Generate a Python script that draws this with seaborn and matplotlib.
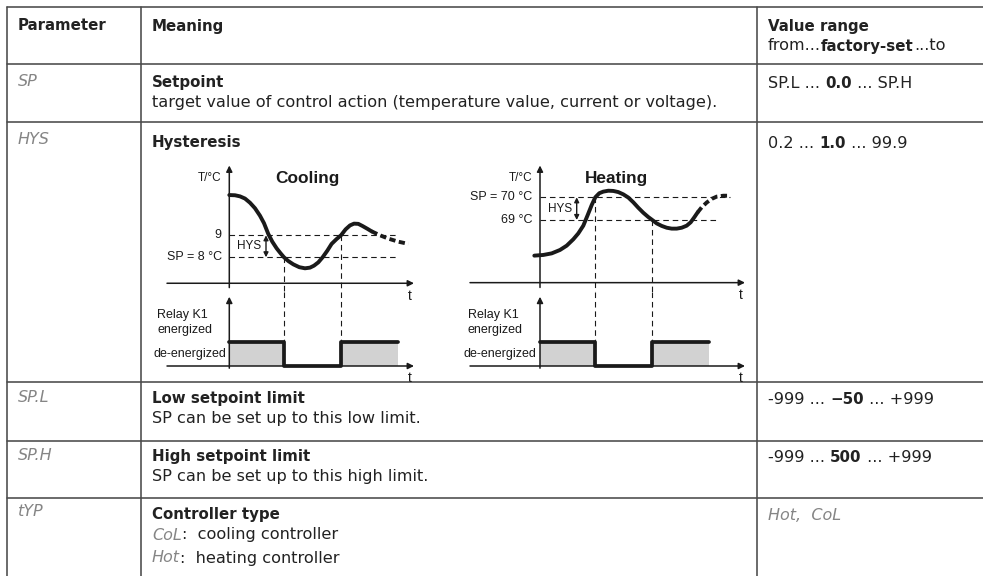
import seaborn as sns
import matplotlib.pyplot as plt
from matplotlib import transforms

sns.set_theme(style="white")
plt.rcParams['font.family'] = ['DejaVu Sans']

W, H = 983, 576

# ---- table content ----
headers = ["Parameter", "Meaning"]
range_header = [("Value range", "bold")]
range_sub = [("from...", "normal"), ("factory-set", "bold"), ("...to", "normal")]
params = ["SP", "HYS", "SP.L", "SP.H", "tYP"]
titles = ["Setpoint", "Hysteresis", "Low setpoint limit", "High setpoint limit", "Controller type"]
details = [
    [[("target value of control action (temperature value, current or voltage).", "normal")]],
    [],
    [[("SP can be set up to this low limit.", "normal")]],
    [[("SP can be set up to this high limit.", "normal")]],
    [[("CoL", "seg"), (":  cooling controller", "normal")],
     [("Hot", "seg"), (":  heating controller", "normal")]],
]
ranges = [
    [("SP.L ... ", "normal"), ("0.0", "bold"), (" ... SP.H", "normal")],
    [("0.2 ... ", "normal"), ("1.0", "bold"), (" ... 99.9", "normal")],
    [("-999 ... ", "normal"), ("\u221250", "bold"), (" ... +999", "normal")],
    [("-999 ... ", "normal"), ("500", "bold"), (" ... +999", "normal")],
    [("Hot,  CoL", "seg")],
]

# ---- diagram data (time in arbitrary units, temperature in degC) ----
cool_t = [0, 0.57, 1.07, 1.57, 2.07, 2.57, 3.07, 3.47, 3.9, 4.3, 4.73, 5.13, 5.47, 5.9,
          6.4, 7.0, 7.57, 8.07, 8.47, 8.9, 9.33, 9.8, 10.23, 10.73, 11.17, 11.63, 12.07,
          12.47, 12.9, 13.33, 13.83, 14.23]
cool_T = [10.83, 10.82, 10.77, 10.67, 10.48, 10.23, 9.89, 9.55, 9.06, 8.71, 8.41, 8.18, 8.0,
          7.83, 7.68, 7.55, 7.5, 7.53, 7.62, 7.77, 8.0, 8.3, 8.61, 8.83, 9.0, 9.27, 9.45,
          9.53, 9.52, 9.42, 9.29, 9.18]
cool_tail_t = [14.23, 15.07, 15.9, 16.9, 17.9]
cool_tail_T = [9.18, 9.0, 8.85, 8.71, 8.61]
cool_sp, cool_upper = 8, 9
cool_relay_t = [0, 5.47, 11.17, 16.9]
cool_relay_s = [1, 0, 1, 1]

heat_t = [-0.57, 0.33, 1.17, 2.0, 2.67, 3.33, 3.83, 4.33, 4.77, 5.17, 5.53, 5.93, 6.33, 6.83,
          7.33, 7.83, 8.33, 8.83, 9.33, 9.83, 10.33, 10.83, 11.23, 11.67, 12.17, 12.67,
          13.17, 13.67, 14.17, 14.67, 15.07, 15.43, 15.77]
heat_T = [67.43, 67.46, 67.53, 67.68, 67.87, 68.15, 68.41, 68.75, 69.22, 69.66, 70.0, 70.18,
          70.25, 70.29, 70.28, 70.23, 70.13, 69.99, 69.78, 69.54, 69.32, 69.13, 69.0, 68.85,
          68.74, 68.66, 68.62, 68.62, 68.66, 68.75, 68.9, 69.12, 69.34]
heat_tail_t = [15.77, 16.17, 16.67, 17.17, 17.67, 18.33, 19.0]
heat_tail_T = [69.34, 69.56, 69.77, 69.93, 70.03, 70.07, 70.07]
heat_sp, heat_lower = 70, 69
heat_relay_t = [0, 5.53, 11.23, 16.93]
heat_relay_s = [1, 0, 1, 1]

fig = plt.figure(figsize=(W / 100, H / 100), dpi=100)
renderer = fig.canvas.get_renderer()

bg = fig.add_axes([0, 0, 1, 1])
bg.set_xlim(0, W)
bg.set_ylim(H, 0)
bg.axis('off')

TXT = '#222222'
styles = {
    'normal': dict(family='DejaVu Sans', size=11.6, color=TXT),
    'bold': dict(family='DejaVu Sans', size=10.8, color=TXT, weight='bold'),
    'seg': dict(family='DejaVu Sans', style='oblique', weight='light', size=11.5, color='#858585'),
}


def extent(s, style):
    t = bg.text(0, 0, s, **style)
    w = t.get_window_extent(renderer).width
    t.remove()
    return w


def text_width(s, style):
    # advance width of s (spaces included), bearings cancelled by bar glyphs
    return extent('|' + s + '|', style) - extent('||', style)


def rich(ax, x, y, parts):
    trans = ax.transData
    for s, kind in parts:
        ax.text(x, y, s, transform=trans, va='center', ha='left', **styles[kind])
        trans = transforms.offset_copy(trans, x=text_width(s, styles[kind]), units='dots')


# ---- table grid ----
row_lines = [7, 64, 122, 382, 441, 498]
col_lines = [7, 141, 757]
line_kw = dict(color='#4a4a4a', lw=1.15)
for y in row_lines:
    bg.plot([7, W], [y, y], **line_kw)
for x in col_lines:
    bg.plot([x, x], [7, H], **line_kw)

# header
bg.text(18, 26, headers[0], va='center', **styles['bold'])
bg.text(152, 26, headers[1], va='center', **styles['bold'])
rich(bg, 768, 26, range_header)
rich(bg, 768, 46, range_sub)

row_y = [83, 142, 399, 457, 514]
for i, y in enumerate(row_y):
    rich(bg, 18, y - 2, [(params[i], 'seg')])
    bg.text(152, y, titles[i], va='center', **styles['bold'])
    for j, line in enumerate(details[i]):
        rich(bg, 152, y + 21 + 23 * j if i == 4 else y + 19, line)
    rich(bg, 768, y + 1, ranges[i])


# ---- diagrams ----
def diagram_axes(box, x_origin, x_scale, y_ref_px, y_ref_val, y_scale):
    x0, y0, x1, y1 = box
    ax = fig.add_axes([x0 / W, 1 - y1 / H, (x1 - x0) / W, (y1 - y0) / H])
    ax.set_xlim((x0 - x_origin) / x_scale, (x1 - x_origin) / x_scale)
    ax.set_ylim(y_ref_val - (y1 - y_ref_px) / y_scale, y_ref_val - (y0 - y_ref_px) / y_scale)
    ax.axis('off')
    return ax


DFAM = ['Liberation Sans', 'DejaVu Sans']
DF = dict(family=DFAM, size=9, color='#1a1a1a')
arrow = dict(arrowstyle='-|>', color='k', lw=1.1, mutation_scale=9, shrinkA=0, shrinkB=0)
dbl = dict(arrowstyle='<|-|>', color='k', lw=1.0, mutation_scale=7, shrinkA=0, shrinkB=0)
dash = (0, (5, 3.5))


def draw_diagram(box_x, x_origin, y_ref_px, y_ref_val, y_scale, t, T, tail_t, tail_T,
                 levels, level_end, switches, relay_t, relay_s, axis_span, title, labels):
    top = diagram_axes((box_x[0], 160, box_x[1], 292), x_origin, 10, y_ref_px, y_ref_val, y_scale)
    bot = diagram_axes((box_x[0], 292, box_x[1], 385), x_origin, 10, 366, 0, 24.3)
    tb, tt = top.get_ylim()
    x_left, x_right, t_axis = axis_span

    # axes
    top.annotate('', xy=(0, tt - 0.25 * (tt - tb) / 6), xytext=(0, tb + 0.2), arrowprops=arrow)
    top.annotate('', xy=(x_right, t_axis), xytext=(x_left, t_axis), arrowprops=arrow)
    bot.annotate('', xy=(0, 2.85), xytext=(0, -0.09), arrowprops=arrow)
    bot.annotate('', xy=(x_right, 0), xytext=(x_left, 0), arrowprops=arrow)

    # setpoint guides
    for lv, end in zip(levels, level_end):
        top.plot([0, end], [lv, lv], color='k', lw=0.8, linestyle=dash)
    for (st, sv) in switches:
        top.plot([st, st], [sv, tb], color='k', lw=0.8, linestyle=dash)
        bot.plot([st, st], [bot.get_ylim()[1], 0], color='k', lw=0.8, linestyle=dash)

    # temperature curve
    sns.lineplot(x=t, y=T, ax=top, color='k', lw=2.8, sort=False, estimator=None)
    sns.lineplot(x=tail_t, y=tail_T, ax=top, color='k', lw=2.8, sort=False, estimator=None,
                 linestyle=(0, (1.6, 0.9)))

    # relay
    bot.fill_between(relay_t, relay_s, step='post', color='#d2d2d2', lw=0)
    sns.lineplot(x=relay_t, y=relay_s, ax=bot, color='k', lw=2.7, sort=False, estimator=None,
                 drawstyle='steps-post')

    # texts
    lo, hi = min(levels), max(levels)
    top.text(-0.8, labels['tc_y'], 'T/°C', ha='right', va='center', family=DFAM, size=8.5,
             color='#1a1a1a')
    top.text(labels['title_x'], labels['tc_y'], title, ha='left', va='center',
             family=DFAM, size=12.4, weight='bold', color='#1a1a1a')
    top.text(-0.75, hi, labels['hi'], ha='right', va='center', **DF)
    top.text(-0.75, lo, labels['lo'], ha='right', va='center', **DF)
    top.text(2.0, (lo + hi) / 2, 'HYS', ha='center', va='center', family=DFAM, size=8.5,
             color='#1a1a1a')
    top.annotate('', xy=(3.67, hi), xytext=(3.67, lo), arrowprops=dbl)
    top.text(x_right - 0.45, labels['t_y'], 't', ha='center', va='center',
             family=DFAM, size=10, color='#1a1a1a')
    bot.text(x_right - 0.45, -0.5, 't', ha='center', va='center',
             family=DFAM, size=10, color='#1a1a1a')
    bot.text(labels['relay_x'], 2.1, 'Relay K1', ha='left', va='center', **DF)
    bot.text(labels['relay_x'], 1.48, 'energized', ha='left', va='center', **DF)
    bot.text(labels['relay_x'] - 0.4, 0.49, 'de-energized', ha='left', va='center', **DF)


draw_diagram((145, 425), 229.3, 257.3, 8, 22, cool_t, cool_T, cool_tail_t, cool_tail_T,
             [cool_upper, cool_sp], [16.7, 16.7], [(5.47, cool_sp), (11.17, cool_upper)],
             cool_relay_t, cool_relay_s, (-6.23, 18.47, 6.82), 'Cooling',
             dict(tc_y=11.6, title_x=4.57, hi='9', lo='SP = 8 °C', t_y=6.24, relay_x=-7.23))

draw_diagram((450, 760), 540, 197.3, 70, 22.7, heat_t, heat_T, heat_tail_t, heat_tail_T,
             [heat_sp, heat_lower], [19.0, 17.67], [(5.53, heat_sp), (11.23, heat_lower)],
             heat_relay_t, heat_relay_s, (-7.0, 20.5, 66.24), 'Heating',
             dict(tc_y=70.85, title_x=4.5, hi='SP = 70 °C', lo='69 °C', t_y=65.7, relay_x=-7.2))

fig.savefig('out.png', dpi=100)
